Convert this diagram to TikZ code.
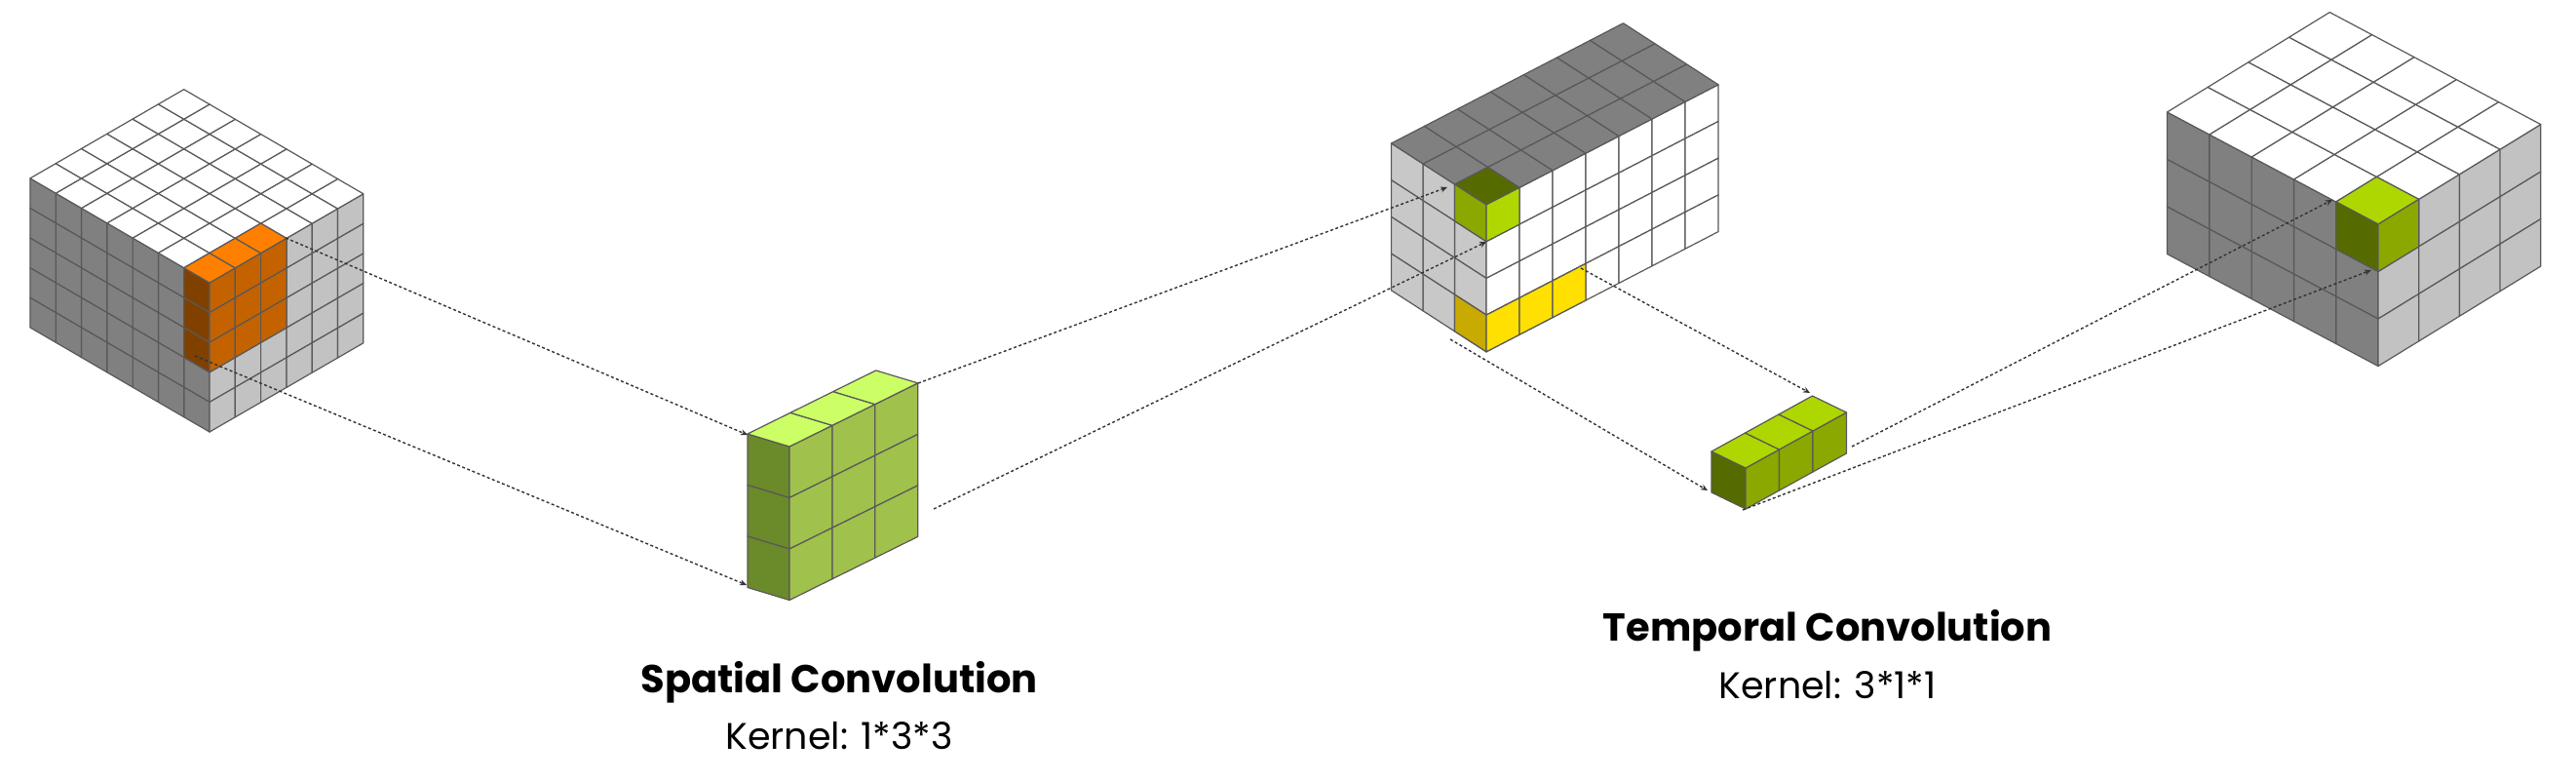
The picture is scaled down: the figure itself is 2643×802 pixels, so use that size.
\documentclass[tikz,border=0pt]{standalone}
\usepackage{fontspec}
\setmainfont{Poppins}
\usetikzlibrary{arrows.meta}
\definecolor{gdark}{HTML}{808080}
\definecolor{glight}{HTML}{C2C2C2}
\definecolor{gmid}{HTML}{C8C8C8}
\definecolor{oTop}{HTML}{FF8000}
\definecolor{oLeft}{HTML}{804000}
\definecolor{oRight}{HTML}{C46200}
\definecolor{kTop}{HTML}{CCFF66}
\definecolor{kLeft}{HTML}{6B8A2A}
\definecolor{kRight}{HTML}{A0C14C}
\definecolor{tTop}{HTML}{AED600}
\definecolor{tLeft}{HTML}{556B00}
\definecolor{tRight}{HTML}{8AA800}
\definecolor{mRight}{HTML}{B0D800}
\definecolor{yLeft}{HTML}{C8AA00}
\definecolor{yRight}{HTML}{FFE000}
\newcommand\setblk[7]{\def\Px{#1}\def\Py{#2}\def\ax{#3}\def\ay{#4}\def\bx{#5}\def\by{#6}\def\hh{#7}}
\newcommand\cL[3]{\filldraw[cell,fill=#3] ({\Px-(#1)*\ax},{\Py-(#1)*\ay+(#2)*\hh}) -- ({\Px-(#1+1)*\ax},{\Py-(#1+1)*\ay+(#2)*\hh}) -- ({\Px-(#1+1)*\ax},{\Py-(#1+1)*\ay+(#2+1)*\hh}) -- ({\Px-(#1)*\ax},{\Py-(#1)*\ay+(#2+1)*\hh}) -- cycle;}
\newcommand\cR[3]{\filldraw[cell,fill=#3] ({\Px+(#1)*\bx},{\Py+(#1)*\by+(#2)*\hh}) -- ({\Px+(#1+1)*\bx},{\Py+(#1+1)*\by+(#2)*\hh}) -- ({\Px+(#1+1)*\bx},{\Py+(#1+1)*\by+(#2+1)*\hh}) -- ({\Px+(#1)*\bx},{\Py+(#1)*\by+(#2+1)*\hh}) -- cycle;}
\newcommand\cT[3]{\filldraw[cell,fill=#3] ({\Px-(#1)*\ax+(#2)*\bx},{\Py-(#1)*\ay+(#2)*\by}) -- ({\Px-(#1+1)*\ax+(#2)*\bx},{\Py-(#1+1)*\ay+(#2)*\by}) -- ({\Px-(#1+1)*\ax+(#2+1)*\bx},{\Py-(#1+1)*\ay+(#2+1)*\by}) -- ({\Px-(#1)*\ax+(#2+1)*\bx},{\Py-(#1)*\ay+(#2+1)*\by}) -- cycle;}
% #1 max a index, #2 max b index, #3 max c index, #4 top, #5 left, #6 right
\newcommand\blk[6]{%
  \foreach \i in {0,...,#1}{\foreach \k in {0,...,#3}{\cL{\i}{\k}{#5}}}
  \foreach \j in {0,...,#2}{\foreach \k in {0,...,#3}{\cR{\j}{\k}{#6}}}
  \foreach \i in {0,...,#1}{\foreach \j in {0,...,#2}{\cT{\i}{\j}{#4}}}}
\begin{document}
\begin{tikzpicture}[x=1pt,y=-1pt,
  cell/.style={draw=black!65,line width=1.2pt,line join=round},
  conn/.style={black!80,line width=1.4pt,dash pattern=on 3pt off 2.5pt,-{Stealth[length=7pt,width=6pt]}},
  title/.style={font=\bfseries\fontsize{40}{48}\selectfont,anchor=center},
  sub/.style={font=\fontsize{38}{46}\selectfont,anchor=center}]
\useasboundingbox (0,0) rectangle (2643,802);
% left input volume
\setblk{215}{290}{26.3}{15.3}{26.3}{-15.2}{30.6}
\blk{6}{5}{4}{white}{gdark}{glight}
\foreach \k in {0,1,2}{\cL{0}{\k}{oLeft}}
\foreach \j in {0,1,2}{\foreach \k in {0,1,2}{\cR{\j}{\k}{oRight}}\cT{0}{\j}{oTop}}
% spatial kernel
\setblk{810}{458}{43}{13}{43.9}{-21.7}{52.5}
\blk{0}{2}{2}{kTop}{kLeft}{kRight}
% middle volume
\setblk{1525}{210}{32.5}{21}{34}{-17.6}{37.7}
\blk{2}{6}{3}{gdark}{gmid}{white}
\cT{0}{0}{tLeft}\cL{0}{0}{tRight}\cR{0}{0}{mRight}
\cL{0}{3}{yLeft}
\foreach \j in {0,1,2}{\cR{\j}{3}{yRight}}
% temporal kernel
\setblk{1791}{480}{35}{17}{34.5}{-19}{42}
\blk{0}{2}{0}{tTop}{tLeft}{tRight}
% output volume
\setblk{2440}{230}{43.3}{23}{41.7}{-25.6}{48.5}
\blk{4}{3}{2}{white}{gdark}{glight}
\cT{0}{0}{tTop}\cL{0}{0}{tLeft}\cR{0}{0}{tRight}
% connector endpoints
\coordinate (o1) at (293,244); \coordinate (o2) at (200,365);
\coordinate (k1) at (767,446); \coordinate (k2) at (766,600);
\coordinate (k3) at (942,393); \coordinate (k4) at (958,522);
\coordinate (g1) at (1485,192); \coordinate (g2) at (1525,248);
\coordinate (y1) at (1622,275); \coordinate (y2) at (1488,348);
\coordinate (t1) at (1857,403); \coordinate (t2) at (1752,503);
\coordinate (t3) at (1900,458); \coordinate (t4) at (1788,523);
\coordinate (r1) at (2393,205); \coordinate (r2) at (2433,277);
\draw[conn] (o1) -- (k1);
\draw[conn] (o2) -- (k2);
\draw[conn] (k3) -- (g1);
\draw[conn] (k4) -- (g2);
\draw[conn] (y1) -- (t1);
\draw[conn] (y2) -- (t2);
\draw[conn] (t3) -- (r1);
\draw[conn] (t4) -- (r2);
% labels
\node[title] (sp) at (861,700) {Spatial Convolution};
\node[sub] (spk) at (861,755) {Kernel: 1*3*3};
\node[title] (tp) at (1875,647) {Temporal Convolution};
\node[sub] (tpk) at (1875,703) {Kernel: 3*1*1};
\end{tikzpicture}
\end{document}
